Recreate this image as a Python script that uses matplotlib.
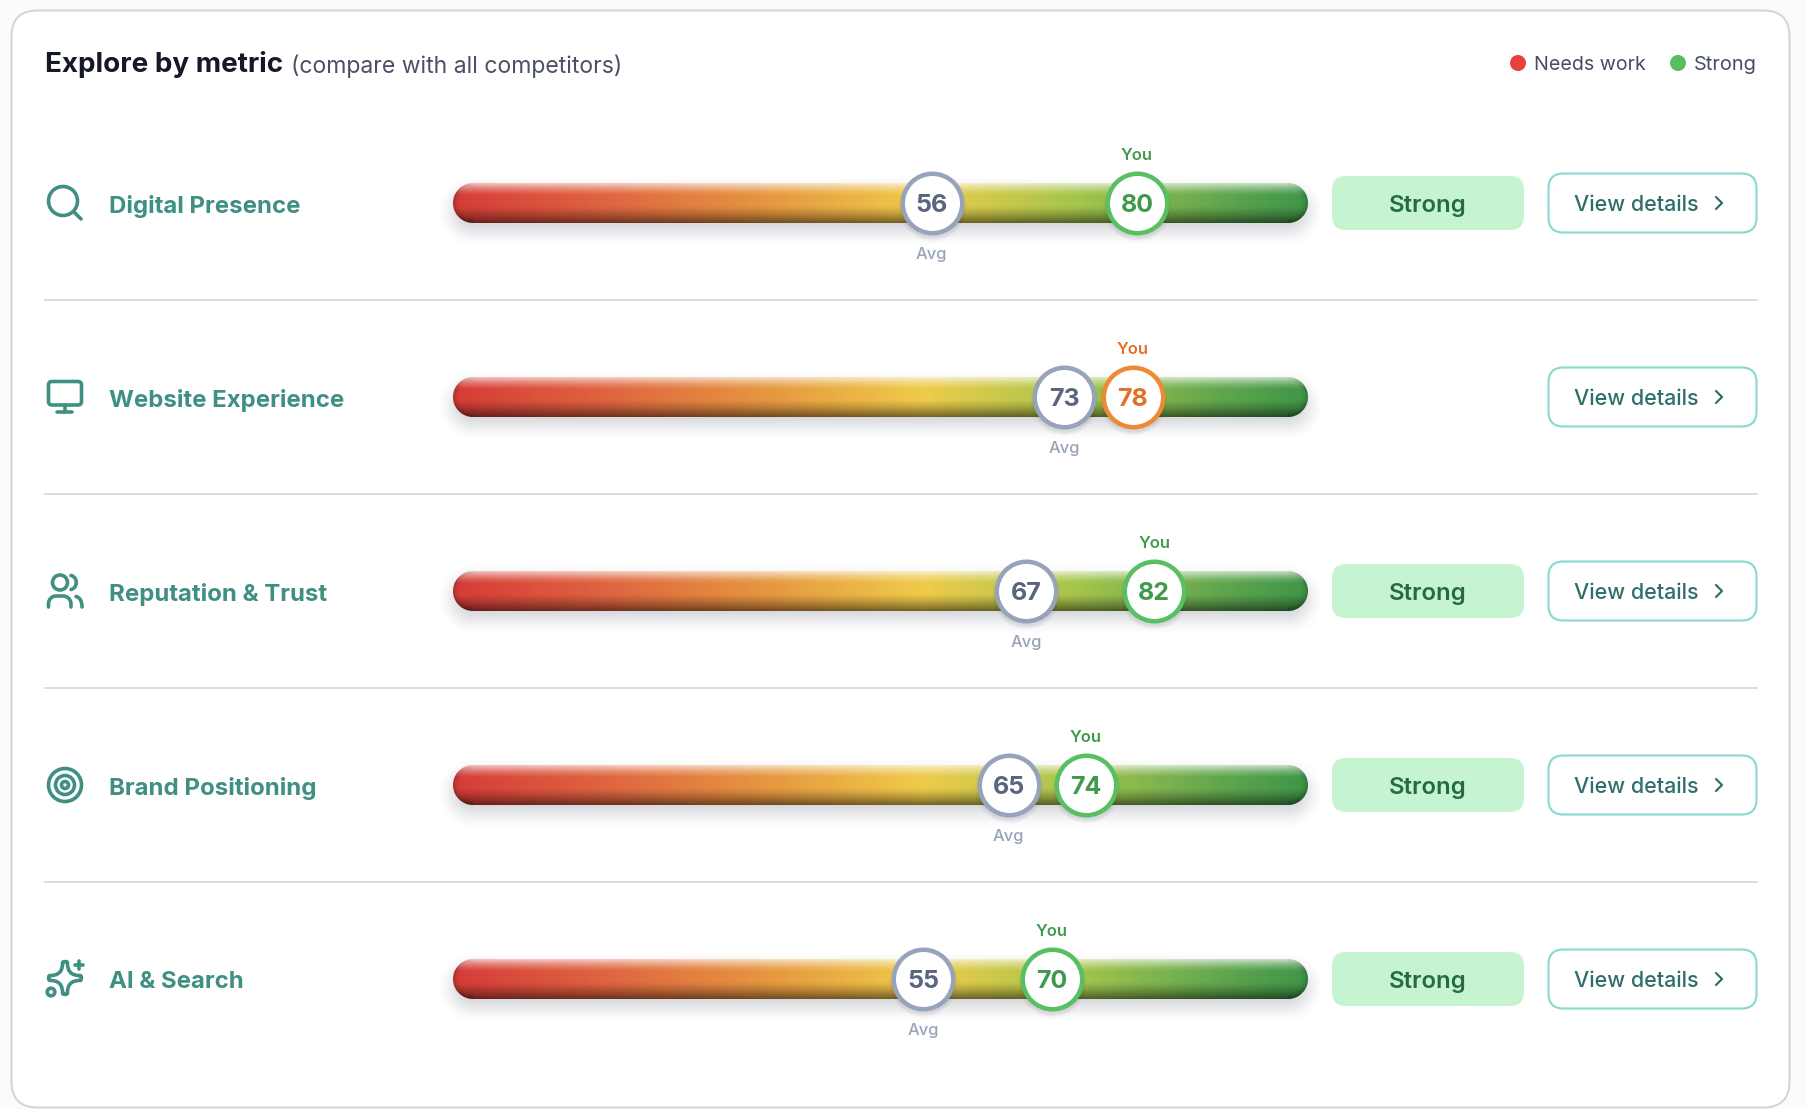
import numpy as np
import matplotlib
matplotlib.use("Agg")
import matplotlib.pyplot as plt
from matplotlib.colors import LinearSegmentedColormap, to_rgb
from matplotlib.patches import Circle, FancyBboxPatch, PathPatch
from matplotlib.path import Path

plt.rcParams["font.family"] = ["Inter", "Roboto", "DejaVu Sans"]

# chart values
metrics = ["Digital Presence", "Website Experience", "Reputation & Trust", "Brand Positioning", "AI & Search"]
icons = ["search", "monitor", "users", "target", "sparkle"]
avg_scores = [56, 73, 67, 65, 55]
you_scores = [80, 78, 82, 74, 70]
you_status = ["good", "warn", "good", "good", "good"]
badges = ["Strong", None, "Strong", "Strong", "Strong"]

W, H = 1807, 1109
TEAL = "#3f8f82"
MIN_GAP = 8.0  # markers closer than this get pushed apart

bar_cmap = LinearSegmentedColormap.from_list("bar", [
    (0.0, "#d63c38"), (0.18, "#df6540"), (0.36, "#e59540"), (0.55, "#efcb4a"),
    (0.73, "#a5c54c"), (0.89, "#64a84e"), (1.0, "#3f9548")])


def px(n):
    # pixels to points at dpi 100
    return n * 0.72


def rounded_sdf(xx, yy, hw, hh, r):
    qx = np.abs(xx) - hw + r
    qy = np.abs(yy) - hh + r
    return np.hypot(np.maximum(qx, 0), np.maximum(qy, 0)) + np.minimum(np.maximum(qx, qy), 0) - r


def bar_image():
    w, h = 855, 40
    xs = np.arange(w) + 0.5
    ys = np.arange(h) + 0.5
    xx, yy = np.meshgrid(xs - w / 2, ys - h / 2)
    rgb = bar_cmap(xs / w)[:, :3][None, :, :].repeat(h, axis=0)
    sdf = rounded_sdf(xx, yy, w / 2, h / 2, 20)
    t = ys / h
    light = np.clip((0.32 - t) / 0.32, 0, 1) ** 1.4 * 0.7
    dark = np.clip((t - 0.56) / 0.44, 0, 1) ** 1.3 * 0.52
    edge = np.clip((sdf + 8) / 8, 0, 1) ** 2 * 0.22
    edge = edge * (np.abs(xx) > w / 2 - 20)
    rgb = rgb * (1 - dark[:, None, None]) * (1 - edge[:, :, None])
    rgb = rgb + (1 - rgb) * light[:, None, None]
    alpha = np.clip(0.5 - sdf, 0, 1)
    return np.dstack([rgb, alpha])


def soft_shadow(ax, x0, x1, y0, y1, r, blur, opacity, color="#3a3f55"):
    m = blur + 4
    xs = np.arange(x0 - m, x1 + m) + 0.5
    ys = np.arange(y0 - m, y1 + m) + 0.5
    xx, yy = np.meshgrid(xs - (x0 + x1) / 2, ys - (y0 + y1) / 2)
    sdf = rounded_sdf(xx, yy, (x1 - x0) / 2, (y1 - y0) / 2, r)
    t = np.clip(0.5 - sdf / (2 * blur), 0, 1)
    a = t * t * (3 - 2 * t) * opacity
    img = np.dstack([np.ones_like(a) * c for c in to_rgb(color)] + [a])
    ax.imshow(img, extent=(x0 - m, x1 + m, y1 + m, y0 - m), aspect="auto", zorder=2, interpolation="bilinear")


def sparkle_path(sx, sy, arm):
    # four pointed star with rounded tips, walked clockwise from the top tip
    side = 2.4
    verts = [(sx + side, sy - arm + 1.4)]
    codes = [Path.MOVETO]
    for ux, uy in [(1, 0), (0, 1), (-1, 0), (0, -1)]:
        # next arm points along (ux, uy), the arm before it along (vx, vy)
        vx, vy = uy, -ux
        verts += [(sx + (ux + vx) * 2, sy + (uy + vy) * 2),
                  (sx + ux * (arm - 1.4) + vx * side, sy + uy * (arm - 1.4) + vy * side),
                  (sx + ux * (arm + 0.6), sy + uy * (arm + 0.6)),
                  (sx + ux * (arm - 1.4) - vx * side, sy + uy * (arm - 1.4) - vy * side)]
        codes += [Path.CURVE3] * 4
    return Path(verts, codes)


def draw_icon(ax, kind, cx, cy):
    kw = dict(fill=False, ec=TEAL, lw=px(3.6), capstyle="round", joinstyle="round", zorder=3)
    if kind == "search":
        ax.add_patch(Circle((cx - 2, cy - 2), 14.5, **kw))
        ax.add_patch(PathPatch(Path([(cx + 9, cy + 9), (cx + 16, cy + 16)]), **kw))
    elif kind == "monitor":
        ax.add_patch(FancyBboxPatch((cx - 16.5, cy - 15.5), 33, 23.5, boxstyle="round,pad=0,rounding_size=3.5", **kw))
        ax.add_patch(PathPatch(Path([(cx, cy + 8), (cx, cy + 15)]), **kw))
        ax.add_patch(PathPatch(Path([(cx - 7.5, cy + 15), (cx + 7.5, cy + 15)]), **kw))
    elif kind == "users":
        ax.add_patch(Circle((cx - 5, cy - 8.5), 7.5, **kw))
        codes = [Path.MOVETO, Path.LINETO, Path.CURVE4, Path.CURVE4, Path.CURVE4, Path.LINETO, Path.CURVE4, Path.CURVE4, Path.CURVE4, Path.LINETO]
        body = [(cx - 16.5, cy + 16), (cx - 16.5, cy + 13), (cx - 16.5, cy + 8), (cx - 13, cy + 5), (cx - 9, cy + 5),
                (cx - 2, cy + 5), (cx + 2, cy + 5), (cx + 6, cy + 8), (cx + 6, cy + 13), (cx + 6, cy + 16)]
        ax.add_patch(PathPatch(Path(body, codes), **kw))
        ax.add_patch(PathPatch(Path([(cx + 6, cy - 15.5), (cx + 13, cy - 14), (cx + 13, cy - 3), (cx + 6, cy - 1.5)],
                                    [Path.MOVETO, Path.CURVE4, Path.CURVE4, Path.CURVE4]), **kw))
        ax.add_patch(PathPatch(Path([(cx + 11, cy + 5.5), (cx + 15, cy + 6.5), (cx + 17, cy + 10), (cx + 17, cy + 16)],
                                    [Path.MOVETO, Path.CURVE4, Path.CURVE4, Path.CURVE4]), **kw))
    elif kind == "target":
        for r in (16.5, 9.5, 3.5):
            ax.add_patch(Circle((cx, cy), r, **kw))
    elif kind == "sparkle":
        ax.add_patch(PathPatch(sparkle_path(cx, cy - 1, 17), **kw))
        ax.add_patch(PathPatch(Path([(cx + 10.5, cy - 14), (cx + 18, cy - 14)]), **kw))
        ax.add_patch(PathPatch(Path([(cx + 14, cy - 18), (cx + 14, cy - 10)]), **kw))
        ax.add_patch(Circle((cx - 14, cy + 13), 3.8, **kw))


fig = plt.figure(figsize=(W / 100, H / 100), dpi=100, facecolor="#fbfbfc")
ax = fig.add_axes([0, 0, 1, 1])
ax.set_axis_off()

# card
ax.add_patch(FancyBboxPatch((11.5, 10.5), 1778, 1097, boxstyle="round,pad=0,rounding_size=26",
                            fc="white", ec="#d3d4da", lw=px(2), zorder=1))

# header
ax.text(45, 65, "Explore by metric", fontsize=px(27.8), fontweight="bold", color="#141827", va="center", zorder=3)
ax.text(291, 66, "(compare with all competitors)", fontsize=px(23), color="#4b5163", va="center", zorder=3)
ax.add_patch(Circle((1518, 63), 8, fc="#e8403f", ec="none", zorder=3))
ax.text(1534, 65, "Needs work", fontsize=px(19.7), color="#454c66", va="center", zorder=3)
ax.add_patch(Circle((1678, 63), 8, fc="#55bf5f", ec="none", zorder=3))
ax.text(1694, 65, "Strong", fontsize=px(20), color="#454c66", va="center", zorder=3)

row_y = [203 + 194 * i for i in range(len(metrics))]

for i, cy in enumerate(row_y):
    if i < len(metrics) - 1:
        ax.plot([45, 1757], [cy + 97, cy + 97], color="#d5d5d9", lw=px(1.6), zorder=1.5)
    draw_icon(ax, icons[i], 65, cy)
    ax.text(109, cy + 3, metrics[i], fontsize=px(24), fontweight="bold", color=TEAL, va="center", zorder=3)

    soft_shadow(ax, 453, 1308, cy - 20 + 8, cy + 20 + 8, 20, 17, 0.24)

    # the bar gets its own axes so scores land on a 0-100 scale
    bar = fig.add_axes([453 / W, 1 - (cy + 20) / H, 855 / W, 40 / H], zorder=4)
    bar.set_axis_off()
    bar.patch.set_alpha(0)
    bar.imshow(bar_image(), extent=(0, 100, -1, 1), aspect="auto", interpolation="nearest")
    bar.set_xlim(0, 100)
    bar.set_ylim(-1, 1)

    a, y = avg_scores[i], you_scores[i]
    a_pos, y_pos = a, y
    if abs(y - a) < MIN_GAP:
        mid = (a + y) / 2
        a_pos, y_pos = mid - MIN_GAP / 2, mid + MIN_GAP / 2

    if you_status[i] == "good":
        edge, txt = "#58bf62", "#3f9a4c"
    else:
        edge, txt = "#ee8a35", "#e0702a"

    for pos, score, ec, tc in [(a_pos, a, "#97a3ba", "#59647f"), (y_pos, y, edge, txt)]:
        for grow, alpha in [(8, 0.03), (5, 0.04), (2, 0.05)]:
            bar.scatter([pos], [-0.18], s=px(60 + grow) ** 2, color="#2b3045", alpha=alpha, lw=0, clip_on=False, zorder=3)
        bar.scatter([pos], [0], s=px(59.5) ** 2, facecolor="white", edgecolor=ec, linewidth=px(4.5), clip_on=False, zorder=4)
        bar.text(pos, -0.1, str(score), fontsize=px(25), fontweight="bold", color=tc, ha="center", va="center", zorder=5)

    bar.annotate("You", (y_pos, 0), xytext=(0, px(47)), textcoords="offset points", fontsize=px(16.5),
                 fontweight="semibold", color=txt, ha="center", va="center", annotation_clip=False)
    bar.annotate("Avg", (a_pos, 0), xytext=(0, px(-51)), textcoords="offset points", fontsize=px(16.5),
                 fontweight="medium", color="#97a3ba", ha="center", va="center", annotation_clip=False)

    if badges[i]:
        ax.add_patch(FancyBboxPatch((1332, cy - 27), 192, 54, boxstyle="round,pad=0,rounding_size=14",
                                    fc="#c6f4d0", ec="none", zorder=3))
        ax.text(1428, cy + 3, badges[i], fontsize=px(24), fontweight="semibold", color="#256b40", ha="center", va="center", zorder=4)

    ax.add_patch(FancyBboxPatch((1548.5, cy - 29.5), 208, 59, boxstyle="round,pad=0,rounding_size=15",
                                fc="white", ec="#8adcd0", lw=px(2.2), zorder=3))
    ax.text(1574, cy + 2, "View details", fontsize=px(21.5), fontweight="medium", color="#2f6f6b", va="center", zorder=4)
    ax.plot([1716, 1722, 1716], [cy - 6, cy, cy + 6], color="#2f6f6b", lw=px(2.2), solid_capstyle="round",
            solid_joinstyle="round", zorder=4)

ax.set_xlim(0, W)
ax.set_ylim(H, 0)

fig.savefig("out.png", dpi=100, facecolor=fig.get_facecolor())
